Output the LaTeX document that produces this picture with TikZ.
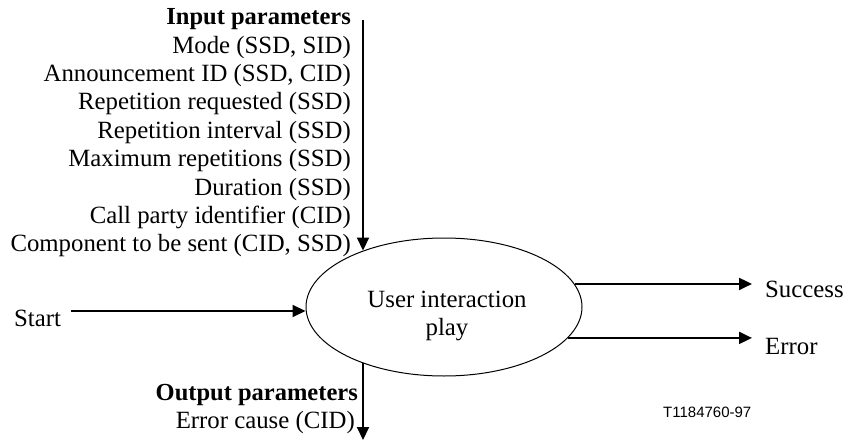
\documentclass[tikz,border=0pt]{standalone}
\usepackage{fontspec}
\setmainfont{Liberation Serif}
\newfontfamily\figsans{Liberation Sans}
\usetikzlibrary{arrows.meta,shapes.geometric}
\begin{document}
\begin{tikzpicture}[x=1pt,y=1pt,
  lbl/.style={inner sep=0pt, font=\fontsize{24.8}{28}\selectfont},
  rlbl/.style={lbl, anchor=base east},
  llbl/.style={lbl, anchor=base west},
  flow/.style={line width=2pt, -{Triangle[length=13pt,width=12pt]}},
  proc/.style={draw, line width=1pt, ellipse, minimum width=276pt, minimum height=138pt, inner sep=0pt}]
\useasboundingbox (0,0) rectangle (843,-441);

% process
\node[proc] (e) at (444,-307) {};
\node[lbl, align=center, anchor=base] (etext) at (447,-335) {User interaction\\play};

% input parameters
\node[rlbl, font=\fontsize{24.5}{28}\selectfont\bfseries] (i0) at (351,-25) {Input parameters};
\node[rlbl] (i1) at (351,-53.33) {Mode (SSD, SID)};
\node[rlbl] (i2) at (351,-81.67) {Announcement ID (SSD, CID)};
\node[rlbl] (i3) at (351,-110) {Repetition requested (SSD)};
\node[rlbl] (i4) at (351,-138.33) {Repetition interval (SSD)};
\node[rlbl] (i5) at (351,-166.67) {Maximum repetitions (SSD)};
\node[rlbl] (i6) at (351,-195) {Duration (SSD)};
\node[rlbl] (i7) at (351,-223.33) {Call party identifier (CID)};
\node[rlbl] (i8) at (351,-251.67) {Component to be sent (CID, SSD)};

\coordinate (itop) at (363,-20);
\draw[flow] (itop) -- (itop |- e.145.6);

% start
\node[llbl] (start) at (14,-326) {Start};
\coordinate (sfrom) at (71,-311);
\draw[flow] (sfrom) -- (sfrom -| e.west);

% outputs
\coordinate (sucend) at (752,-283);
\coordinate (errend) at (752,-338);
\draw[flow] (e.10.5) -- (e.10.5 -| sucend);
\draw[flow] (e.-14.15) -- (e.-14.15 -| errend);
\node[llbl] (succ) at (765,-297) {Success};
\node[llbl] (err) at (765,-354) {Error};

% output parameters
\coordinate (obot) at (363,-440);
\draw[flow] (e.214.4 -| obot) -- (obot);
\node[rlbl, font=\fontsize{24.5}{28}\selectfont\bfseries] (o0) at (358,-400) {Output parameters};
\node[rlbl] (o1) at (355,-428) {Error cause (CID)};

% figure id
\node[anchor=base west, inner sep=0pt, font=\figsans\fontsize{15}{18}\selectfont] (fid) at (663,-417) {T1184760-97};
\end{tikzpicture}
\end{document}
